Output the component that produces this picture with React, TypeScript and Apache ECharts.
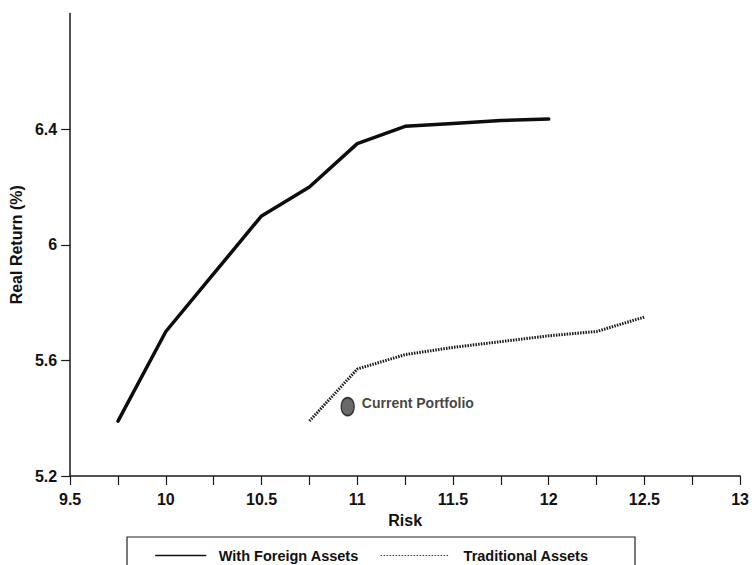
import React, { useEffect, useRef } from "react";
import * as echarts from "echarts";

const foreignRisk = [9.75, 10, 10.25, 10.5, 10.75, 11, 11.25, 11.5, 11.75, 12];
const foreignReturn = [5.39, 5.7, 5.9, 6.1, 6.2, 6.35, 6.41, 6.42, 6.43, 6.435];

const tradRisk = [10.75, 11, 11.25, 11.5, 11.75, 12, 12.25, 12.5];
const tradReturn = [5.39, 5.57, 5.62, 5.645, 5.665, 5.685, 5.7, 5.75];

const currentPortfolio = [10.95, 5.44];

const yTicks = [5.2, 5.6, 6, 6.4];
const xLabels = [9.5, 10, 10.5, 11, 11.5, 12, 12.5, 13];

const FONT = "'Liberation Sans', Arial, Helvetica, sans-serif";

export default function App() {
  const ref = useRef<HTMLDivElement>(null);
  useEffect(() => {
    if (!ref.current) return;
    const chart = echarts.init(ref.current, undefined, { renderer: "svg" });
    const axisColor = "#1a1a1a";
    chart.setOption({
      animation: false,
      backgroundColor: "#ffffff",
      textStyle: { fontFamily: FONT },
      grid: { left: 66, right: 11, top: 13.6, bottom: 89, containLabel: false },
      xAxis: {
        type: "value",
        min: 9.5,
        max: 13,
        interval: 0.25,
        name: "Risk",
        nameLocation: "middle",
        nameGap: 36,
        nameTextStyle: { fontSize: 16, fontWeight: "bold", color: "#111", fontFamily: FONT },
        splitLine: { show: false },
        axisLine: { show: true, lineStyle: { color: axisColor, width: 1.5 } },
        axisTick: { show: true, inside: false, length: 9, lineStyle: { color: axisColor, width: 1.2 } },
        axisLabel: {
          margin: 15,
          fontSize: 16,
          fontWeight: "bold",
          color: "#111",
          fontFamily: FONT,
          showMinLabel: true,
          showMaxLabel: true,
          formatter: (v: number) =>
            xLabels.some((x) => Math.abs(x - v) < 1e-6) ? String(v) : "",
        },
      },
      yAxis: {
        type: "value",
        min: 5.2,
        max: 6.8,
        interval: 0.4,
        name: "Real Return (%)",
        nameLocation: "middle",
        nameGap: 41,
        nameTextStyle: { fontSize: 16, fontWeight: "bold", color: "#111", fontFamily: FONT },
        splitLine: { show: false },
        axisLine: { show: true, lineStyle: { color: axisColor, width: 1.5 } },
        axisTick: {
          show: true,
          length: 9,
          customValues: yTicks,
          lineStyle: { color: axisColor, width: 1.2 },
        },
        axisLabel: {
          margin: 13,
          fontSize: 16,
          fontWeight: "bold",
          color: "#111",
          fontFamily: FONT,
          customValues: yTicks,
          formatter: (v: number) =>
            yTicks.some((y) => Math.abs(y - v) < 1e-6) ? String(v) : "",
        },
      },
      legend: [
        {
          left: 150,
          top: 543,
          itemWidth: 50,
          itemHeight: 14,
          itemStyle: { opacity: 0 },
          data: [
            {
              name: "With Foreign Assets",
              itemStyle: { opacity: 0 },
              lineStyle: { width: 1.5, color: "#111", type: "solid" },
            },
          ],
          textStyle: {
            fontSize: 14.5,
            fontWeight: "bold",
            color: "#111",
            fontFamily: FONT,
            padding: [0, 0, 0, 8],
          },
        },
        {
          left: 375,
          top: 543,
          itemWidth: 68,
          itemHeight: 14,
          itemStyle: { opacity: 0 },
          data: [
            {
              name: "Traditional Assets",
              itemStyle: { opacity: 0 },
              lineStyle: { width: 1.2, color: "#333", type: [1.5, 1.5] },
            },
          ],
          textStyle: {
            fontSize: 14.5,
            fontWeight: "bold",
            color: "#111",
            fontFamily: FONT,
            padding: [0, 0, 0, 10],
          },
        },
      ],
      graphic: [
        {
          type: "rect",
          shape: { x: 127, y: 537, width: 508, height: 60 },
          style: { fill: "none", stroke: "#222", lineWidth: 1.2 },
          silent: true,
        },
      ],
      series: [
        {
          name: "With Foreign Assets",
          type: "line",
          symbol: "none",
          data: foreignRisk.map((x, i) => [x, foreignReturn[i]]),
          lineStyle: { color: "#0d0d0d", width: 3.5, type: "solid", join: "round", cap: "round" },
          itemStyle: { color: "#0d0d0d" },
        },
        {
          name: "Traditional Assets",
          type: "line",
          symbol: "none",
          data: tradRisk.map((x, i) => [x, tradReturn[i]]),
          lineStyle: { color: "#1a1a1a", width: 3, type: [1.5, 1.2] },
          itemStyle: { color: "#1a1a1a" },
        },
        {
          name: "Current Portfolio",
          type: "scatter",
          symbol: "circle",
          symbolSize: [13, 18],
          data: [currentPortfolio],
          itemStyle: { color: "#444", borderColor: "#111", borderWidth: 1.5 },
          label: {
            show: true,
            position: "right",
            distance: 7,
            formatter: "Current Portfolio",
            fontSize: 14,
            fontWeight: "bold",
            color: "#111",
            fontFamily: FONT,
            offset: [0, -4],
          },
        },
      ],
    });
    return () => chart.dispose();
  }, []);
  return <div ref={ref} style={{ width: 752, height: 565, position: "absolute", left: 0, top: 0 }} />;
}
